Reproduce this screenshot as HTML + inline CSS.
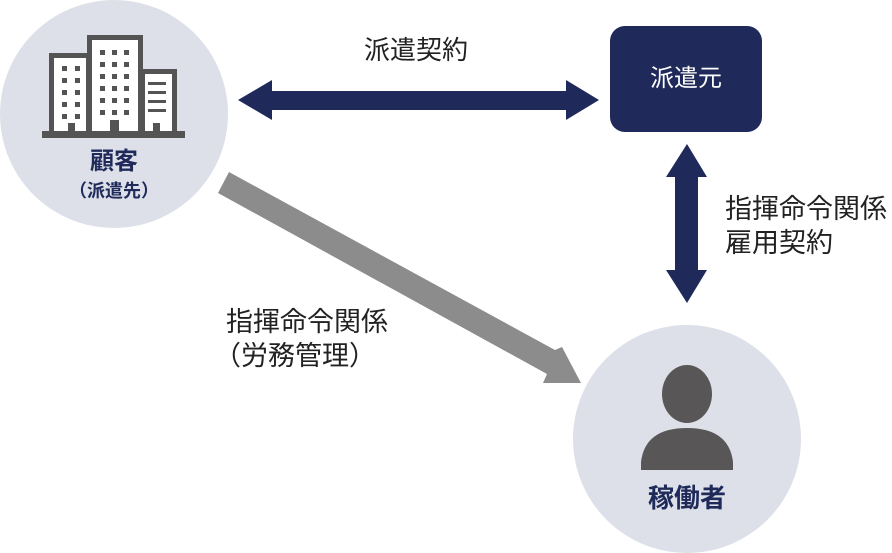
<!DOCTYPE html>
<html><head><meta charset="utf-8"><style>
html,body{margin:0;padding:0;background:#fff;}
body{width:892px;height:553px;overflow:hidden;position:relative;font-family:"Liberation Sans","Noto Sans CJK JP",sans-serif;}
.t{position:absolute;white-space:nowrap;line-height:1;}
</style></head><body>
<svg width="892" height="553" style="position:absolute;left:0;top:0">
<circle cx="114" cy="114" r="114" fill="#dde0e8"/>
<circle cx="687" cy="439" r="114" fill="#dde0e8"/>
<g fill="#545454">
<rect x="42" y="131" width="143" height="7"/>
<rect x="49" y="53" width="42" height="80"/>
<rect x="87" y="35" width="56" height="98"/>
<rect x="140" y="69" width="37" height="64"/>
</g>
<g fill="#fff">
<rect x="54" y="58" width="32" height="73"/>
<rect x="92" y="40" width="46" height="91"/>
<rect x="145" y="74" width="27" height="57"/>
</g>
<g fill="#545454">
<rect x="62" y="66" width="5" height="5"/><rect x="75" y="66" width="5" height="5"/>
<rect x="62" y="78" width="5" height="5"/><rect x="75" y="78" width="5" height="5"/>
<rect x="62" y="90" width="5" height="5"/><rect x="75" y="90" width="5" height="5"/>
<rect x="62" y="102" width="5" height="5"/><rect x="75" y="102" width="5" height="5"/>
<rect x="62" y="114" width="5" height="5"/><rect x="75" y="114" width="5" height="5"/>
<rect x="68" y="123" width="7" height="10"/>
<rect x="100" y="50" width="5" height="5"/><rect x="112" y="50" width="5" height="5"/><rect x="124" y="50" width="5" height="5"/>
<rect x="100" y="62" width="5" height="5"/><rect x="112" y="62" width="5" height="5"/><rect x="124" y="62" width="5" height="5"/>
<rect x="100" y="74" width="5" height="5"/><rect x="112" y="74" width="5" height="5"/><rect x="124" y="74" width="5" height="5"/>
<rect x="100" y="86" width="5" height="5"/><rect x="112" y="86" width="5" height="5"/><rect x="124" y="86" width="5" height="5"/>
<rect x="100" y="98" width="5" height="5"/><rect x="112" y="98" width="5" height="5"/><rect x="124" y="98" width="5" height="5"/>
<rect x="100" y="110" width="5" height="5"/><rect x="112" y="110" width="5" height="5"/><rect x="124" y="110" width="5" height="5"/>
<rect x="110" y="120" width="9" height="13"/>
<rect x="148" y="82" width="18" height="3"/><rect x="148" y="91" width="18" height="3"/>
<rect x="148" y="100" width="18" height="3"/><rect x="148" y="109" width="18" height="3"/>
<rect x="153" y="123" width="7" height="10"/>
</g>
<g fill="#595657">
<ellipse cx="687" cy="394" rx="25" ry="29"/>
<path d="M641 470 L641 462 Q645 428 687 428 Q729 428 733 462 L733 470 Z"/>
</g>
<polygon fill="#1f2a5a" points="238,100 272,80 272,91 566,91 566,80 599,100 566,120 566,110 272,110 272,120"/>
<polygon fill="#1f2a5a" points="687,144 707,177 698,177 698,270 707,270 687,303 666,270 675,270 675,177 666,177"/>
<polygon fill="#8c8c8c" points="229,172 555,350 562,347 581,383 543,383 547,374 218,193"/>
<rect x="610" y="26" width="152" height="106" rx="15" fill="#1f2a5a"/>
</svg>
<div class="t" style="left:0;width:228px;text-align:center;top:150px;font-size:24px;font-weight:bold;color:#1f2a5a">顧客</div>
<div class="t" style="left:0;width:228px;text-align:center;top:182px;font-size:18px;font-weight:bold;color:#1f2a5a">（派遣先）</div>
<div class="t" style="left:610px;width:152px;text-align:center;top:67px;font-size:24px;color:#fff">派遣元</div>
<div class="t" style="left:364px;top:37px;font-size:26px;color:#222">派遣契約</div>
<div class="t" style="left:725px;top:196px;font-size:27px;color:#222">指揮命令関係</div>
<div class="t" style="left:725px;top:230px;font-size:27px;color:#222">雇用契約</div>
<div class="t" style="left:226px;top:309px;font-size:27px;color:#222">指揮命令関係</div>
<div class="t" style="left:214px;top:343px;font-size:27px;color:#222">（労務管理）</div>
<div class="t" style="left:573px;width:228px;text-align:center;top:485px;font-size:26px;font-weight:bold;color:#1f2a5a">稼働者</div>
</body></html>
